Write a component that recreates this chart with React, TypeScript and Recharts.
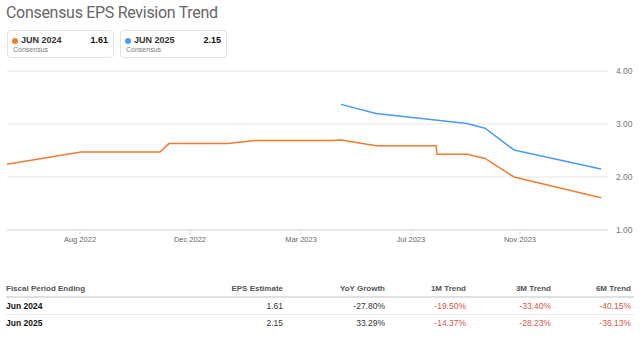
import { CartesianGrid, Line, LineChart, XAxis, YAxis } from "recharts";

// days since the start of the chart window
const days = [0, 74, 153, 162, 221, 248, 325, 334, 369, 429, 430, 460, 478, 507, 594];
const jun2024 = [2.24, 2.47, 2.47, 2.63, 2.63, 2.69, 2.69, 2.7, 2.59, 2.59, 2.43, 2.43, 2.35, 2.0, 1.61];
const jun2025 = [null, null, null, null, null, null, null, 3.37, 3.2, null, null, 3.01, 2.92, 2.51, 2.15];

const xTicks = [73, 183, 294, 404, 513];
const xTickLabels = ["Aug 2022", "Dec 2022", "Mar 2023", "Jul 2023", "Nov 2023"];
const yTicks = [1, 2, 3, 4];

const legendCards = [
  { label: "JUN 2024", value: "1.61", color: "#f27b2f" },
  { label: "JUN 2025", value: "2.15", color: "#4a9bf5" },
];

const tableHeader = ["Fiscal Period Ending", "EPS Estimate", "YoY Growth", "1M Trend", "3M Trend", "6M Trend"];
const tableRows = [
  ["Jun 2024", "1.61", "-27.80%", "-19.50%", "-33.40%", "-40.15%"],
  ["Jun 2025", "2.15", "33.29%", "-14.37%", "-28.23%", "-36.13%"],
];

const FONT = "'Liberation Sans', Arial, Helvetica, sans-serif";
const colRight = [0, 283, 385, 466, 551, 631];

export default function App() {
  const data = days.map((d, i) => ({ day: d, a: jun2024[i], b: jun2025[i] }));
  return (
    <div style={{ position: "relative", width: 640, height: 337, fontFamily: FONT, background: "#fff", overflow: "hidden" }}>
      <style>{"body{margin:0}"}</style>
      <div style={{ position: "absolute", left: 6, top: 3, fontSize: 16, fontFamily: "Roboto, sans-serif", color: "#666", letterSpacing: -0.3 }}>
        Consensus EPS Revision Trend
      </div>
      {legendCards.map((c, i) => (
        <div
          key={c.label}
          style={{
            position: "absolute",
            left: 7 + i * 113,
            top: 30,
            width: 107,
            height: 28,
            border: "1px solid #e3e3e3",
            borderRadius: 4,
            boxSizing: "border-box",
          }}
        >
          <div style={{ position: "absolute", left: 4, top: 7, width: 6, height: 6, borderRadius: 3, background: c.color }} />
          <div style={{ position: "absolute", left: 13, top: 4, fontSize: 9, fontWeight: 700, color: "#333" }}>{c.label}</div>
          <div style={{ position: "absolute", right: 5, top: 4, fontSize: 9, fontWeight: 700, color: "#111" }}>{c.value}</div>
          <div style={{ position: "absolute", left: 5, top: 15, fontSize: 7, color: "#777" }}>Consensus</div>
        </div>
      ))}

      <div style={{ position: "absolute", left: 0, top: 55 }}>
        <LineChart width={640} height={205} data={data} margin={{ top: 16, right: 0, bottom: 0, left: 7 }}>
          <CartesianGrid vertical={false} stroke="#e6e6e6" />
          <XAxis
            dataKey="day"
            type="number"
            domain={[0, 601]}
            ticks={xTicks}
            tickFormatter={(v: number) => xTickLabels[xTicks.indexOf(v)]}
            tick={{ fontSize: 7.5, fill: "#666" }}
            axisLine={{ stroke: "#dddddd" }}
            tickLine={{ stroke: "#dddddd" }}
            tickSize={5}
            height={30}
          />
          <YAxis
            orientation="right"
            domain={[1, 4]}
            ticks={yTicks}
            tickFormatter={(v: number) => v.toFixed(2)}
            tick={{ fontSize: 8.5, fill: "#777" }}
            axisLine={false}
            tickLine={false}
            width={32}
          />
          <Line type="linear" dataKey="a" stroke="#f27b2f" strokeWidth={1.5} dot={false} isAnimationActive={false} />
          <Line type="linear" dataKey="b" stroke="#4a9bf5" strokeWidth={1.5} dot={false} connectNulls isAnimationActive={false} />
        </LineChart>
      </div>

      {tableHeader.map((h, i) => (
        <div
          key={h}
          style={{
            position: "absolute",
            top: 284,
            fontSize: 8,
            fontWeight: 700,
            color: "#555",
            ...(i === 0 ? { left: 6 } : { right: 640 - colRight[i] }),
          }}
        >
          {h}
        </div>
      ))}
      <div style={{ position: "absolute", left: 6, top: 296, width: 628, height: 2, background: "#e0e0e0" }} />
      {tableRows.map((row, r) => (
        <div key={row[0]}>
          {row.map((cell, i) => (
            <div
              key={i}
              style={{
                position: "absolute",
                top: 301 + r * 17,
                fontSize: 8.5,
                fontWeight: i === 0 ? 700 : 400,
                color: i === 0 ? "#111" : i >= 3 ? "#d0574b" : "#333",
                ...(i === 0 ? { left: 6 } : { right: 640 - colRight[i] }),
              }}
            >
              {cell}
            </div>
          ))}
        </div>
      ))}
      <div style={{ position: "absolute", left: 6, top: 314, width: 628, height: 1, background: "#ebebeb" }} />
    </div>
  );
}
